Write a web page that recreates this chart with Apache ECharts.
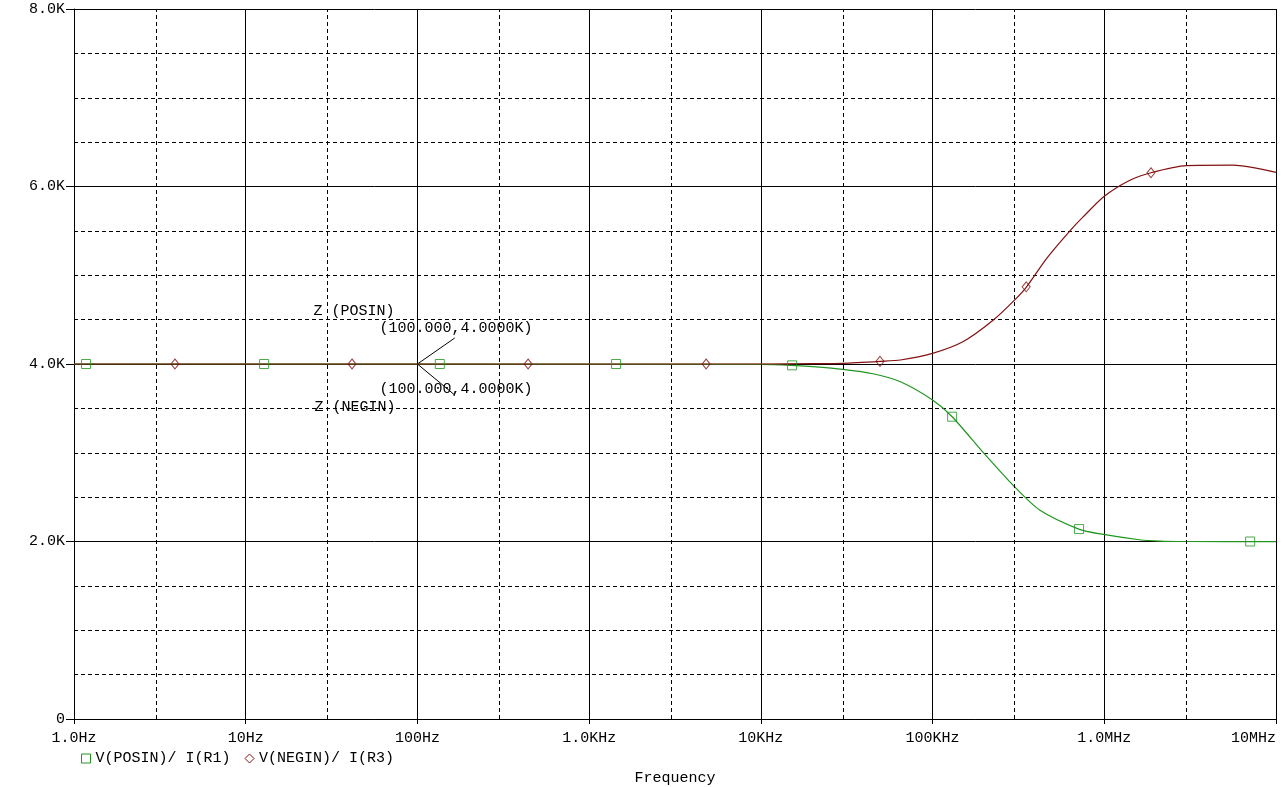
<!DOCTYPE html>
<html>
<head>
<meta charset="utf-8">
<script src="https://cdn.jsdelivr.net/npm/echarts@6/dist/echarts.min.js"></script>
<style>
html,body{margin:0;padding:0;background:#fff;}
#c{width:1283px;height:787px;}
</style>
</head>
<body>
<div id="c"></div>
<script>
// ---- data ----
const xTickLabels = ['1.0Hz','10Hz','100Hz','1.0KHz','10KHz','100KHz','1.0MHz','10MHz'];
const yTickLabels = {0:'0',2000:'2.0K',4000:'4.0K',6000:'6.0K',8000:'8.0K'};
const minorX = [3,30,300,3000,30000,300000,3000000];

const posinCurve = [
  [1,4000],[10e3,3995],[15e3,3985],[20e3,3970],[30e3,3940],[45e3,3890],[65e3,3800],
  [100e3,3594],[130e3,3406],[200e3,2990],[300e3,2617],[420e3,2355],[710e3,2140],
  [950e3,2085],[1.6e6,2020],[2.1e6,2005],[3e6,2000],[10e6,1998]
];
const neginCurve = [
  [1,4000],[10e3,4000],[20e3,4004],[30e3,4008],[50e3,4030],[65e3,4045],[100e3,4120],
  [150e3,4250],[226e3,4496],[300e3,4720],[353e3,4870],[462e3,5190],[631e3,5500],
  [755e3,5660],[1e6,5890],[1.41e6,6070],[1.87e6,6155],[3e6,6235],[5.6e6,6240],[10e6,6160]
];
const posinMarkers = [[1.175,4000],[12.8,4000],[135,4000],[1435,4000],[15.2e3,3985],[130e3,3406],[713e3,2140],[7.07e6,2000]];
const neginMarkers = [[3.87,4000],[41.6,4000],[441,4000],[4.8e3,4000],[49.4e3,4030],[351e3,4870],[1.87e6,6155]];

const annotPoint = [100,4000];
const annotUpperEnd = [165,4293];
const annotLowerEnd = [165,3650];
const annotTexts = ['Z (POSIN)','(100.000,4.0000K)','(100.000,4.0000K)','Z (NEGIN)'];

const seriesNames = ['V(POSIN)/ I(R1)','V(NEGIN)/ I(R3)'];
// ---- style ----
const GREEN = '#1f961f';
const RED = '#841010';
const FONT = 'Liberation Mono';
const FS = 15;

const chart = echarts.init(document.getElementById('c'), null, {renderer:'canvas'});

const option = {
  backgroundColor:'#ffffff',
  animation:false,
  grid:{left:74,right:7,top:9,bottom:68,containLabel:false,outerBoundsMode:'none'},
  legend:{
    left:76, top:746, itemWidth:9, itemHeight:9, itemGap:14,
    textStyle:{fontFamily:FONT,fontSize:FS,color:'#000'},
    data:[
      {name:seriesNames[0],icon:'rect',itemStyle:{color:'transparent',borderColor:GREEN,borderWidth:1}},
      {name:seriesNames[1],icon:'diamond',itemStyle:{color:'transparent',borderColor:RED,borderWidth:1}}
    ]
  },
  xAxis:{
    type:'log', logBase:10, min:1, max:1e7, splitNumber:7,
    name:'Frequency', nameLocation:'middle', nameGap:52,
    nameTextStyle:{fontFamily:FONT,fontSize:FS,color:'#000'},
    axisLine:{show:true,lineStyle:{color:'#000',width:1}},
    axisTick:{show:true,length:5,lineStyle:{color:'#000'}},
    minorTick:{show:false},
    axisLabel:{
      fontFamily:FONT,fontSize:FS,color:'#000',margin:12,alignMaxLabel:'right',
      formatter:function(v){return xTickLabels[Math.round(Math.log10(v))];}
    },
    splitLine:{show:true,lineStyle:{color:'#000',width:1,type:'solid'}}
  },
  yAxis:[
    {
      type:'value', min:0, max:8000, interval:2000,
      axisLine:{show:true,lineStyle:{color:'#000',width:1}},
      axisTick:{show:true,length:8,lineStyle:{color:'#000'}},
      axisLabel:{fontFamily:FONT,fontSize:FS,color:'#000',margin:9,
        formatter:function(v){return yTickLabels[v];}},
      splitLine:{show:true,lineStyle:{color:'#000',width:1,type:'solid'}},
      z:3
    },
    {
      type:'value', min:0, max:8000, interval:500, position:'left',
      axisLine:{show:false}, axisTick:{show:false}, axisLabel:{show:false},
      splitLine:{show:true,lineStyle:{color:'#000',width:1,type:[4,3]}}
    }
  ],
  series:[
    {
      name:'minorGrid', type:'line', data:[], silent:true,
      markLine:{
        silent:true, symbol:['none','none'], label:{show:false},
        lineStyle:{color:'#000',width:1,type:[4,3]},
        data:minorX.map(v=>({xAxis:v}))
      }
    },
    {
      name:seriesNames[0], type:'line', data:posinCurve, smooth:0.25,
      showSymbol:false, lineStyle:{color:GREEN,width:1.2}, itemStyle:{color:GREEN}, z:4
    },
    {
      name:seriesNames[1], type:'line', data:neginCurve, smooth:0.25,
      showSymbol:false, lineStyle:{color:RED,width:1.2}, itemStyle:{color:RED}, z:5
    },
    {
      name:seriesNames[0], type:'scatter', data:posinMarkers, symbol:'rect', symbolSize:9,
      itemStyle:{color:'transparent',borderColor:GREEN,borderWidth:1}, z:6
    },
    {
      name:seriesNames[1], type:'scatter', data:neginMarkers, symbol:'diamond', symbolSize:[8,10],
      itemStyle:{color:'transparent',borderColor:RED,borderWidth:1}, z:6
    },
    {
      name:'annot', type:'line', data:[], silent:true,
      markLine:{
        silent:true, symbol:['none','none'], label:{show:false},
        lineStyle:{color:'#000',width:1,type:'solid'},
        data:[
          [{coord:annotPoint},{coord:annotUpperEnd}],
          [{coord:annotPoint},{coord:annotLowerEnd}]
        ]
      }
    }
  ]
};
chart.setOption(option);

// annotation texts positioned relative to the annotated point
const p = chart.convertToPixel({xAxisIndex:0,yAxisIndex:0}, annotPoint);
const offs = [[-104,-53],[-38,-36],[-38,25],[-103,43]];
chart.setOption({
  graphic: annotTexts.map((t,i)=>({
    type:'text', x:p[0]+offs[i][0], y:p[1]+offs[i][1], z:10, silent:true,
    style:{text:t, fill:'#000', font:FS+'px "'+FONT+'"', textVerticalAlign:'middle', textAlign:'left'}
  }))
});
</script>
</body>
</html>
